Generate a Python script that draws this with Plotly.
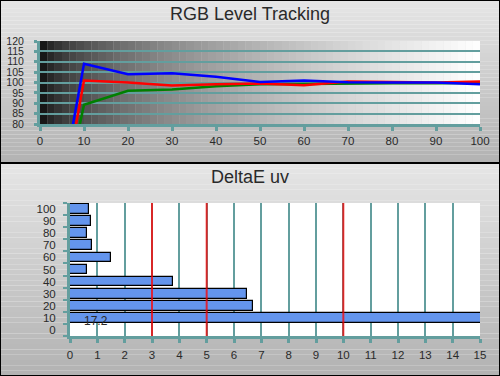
import plotly.graph_objects as go

# ---------------- data ----------------
levels = [0, 10, 20, 30, 40, 50, 60, 70, 80, 90, 100]
red_vals = [-16, 101, 100, 98.6, 99.2, 99.5, 98.7, 100.5, 100.2, 100, 100.5]
green_vals = [-11, 89.3, 96, 96.6, 98.2, 99.2, 99.3, 99.6, 99.6, 99.6, 99.8]
blue_vals = [-7, 109, 104, 104.5, 102.8, 100.3, 101.0, 100.1, 100, 100, 99.2]

de_levels = [10, 20, 30, 40, 50, 60, 70, 80, 90, 100]
de_values = [17.2, 6.68, 6.49, 3.75, 0.63, 1.51, 0.79, 0.63, 0.76, 0.71]
de_thresholds = [3, 5, 10]

top_title = "RGB Level Tracking"
bottom_title = "DeltaE uv"

# ---------------- style ----------------
W, H = 500, 376
TEAL = "#639e9e"
FONT = "Liberation Sans, Arial, sans-serif"
TXT = "#2a2a2a"


def py(px):
    return 1 - px / H


def px_(x):
    return x / W


fig = go.Figure()

fig.add_trace(go.Scatter(x=levels, y=green_vals, mode="lines",
                         line=dict(color="#008000", width=2.5),
                         xaxis="x", yaxis="y", showlegend=False))
fig.add_trace(go.Scatter(x=levels, y=red_vals, mode="lines",
                         line=dict(color="#ff0000", width=2.5),
                         xaxis="x", yaxis="y", showlegend=False))
fig.add_trace(go.Scatter(x=levels, y=blue_vals, mode="lines",
                         line=dict(color="#0000ff", width=2.5),
                         xaxis="x", yaxis="y", showlegend=False))

fig.add_trace(go.Bar(x=de_values, y=de_levels, orientation="h", width=8,
                     marker=dict(color="#6495ed", line=dict(color="black", width=1.2)),
                     xaxis="x2", yaxis="y2", showlegend=False))

shapes = []

# panel gradient backgrounds (paper)
def panel(y_top, y_bot, n=40, c_top=230, c_bot=178):
    for i in range(n):
        t0 = y_top + (y_bot - y_top) * i / n
        t1 = y_top + (y_bot - y_top) * (i + 1) / n
        c = int(round(c_top + (c_bot - c_top) * (i + 0.5) / n))
        shapes.append(dict(type="rect", xref="paper", yref="paper",
                           x0=0, x1=1, y0=py(t1), y1=py(t0),
                           fillcolor=f"rgb({c},{c},{c})", line=dict(width=0),
                           layer="below"))

panel(0, 163)
panel(163, 376)

# horizontal black->white gradient inside the top plot
N = 60
for i in range(N):
    x0 = 100 * i / N
    x1 = 100 * (i + 1) / N
    t = (i + 0.5) / N
    c = int(round(255 * t ** 0.5))
    shapes.append(dict(type="rect", xref="x", yref="y domain",
                       x0=x0, x1=x1 + 0.05, y0=0, y1=1,
                       fillcolor=f"rgb({c},{c},{c})", line=dict(width=0),
                       layer="below"))

# white plot area for bottom chart
shapes.append(dict(type="rect", xref="x2 domain", yref="y2 domain",
                   x0=0, x1=1, y0=0, y1=1, fillcolor="white",
                   line=dict(width=0), layer="below"))

# threshold lines
for t in de_thresholds:
    shapes.append(dict(type="line", xref="x2", yref="y2 domain",
                       x0=t, x1=t, y0=0, y1=1,
                       line=dict(color="#ff0000", width=2), opacity=0.75,
                       layer="above"))

# divider and border
shapes.append(dict(type="line", xref="paper", yref="paper", x0=0, x1=1,
                   y0=py(163), y1=py(163), line=dict(color="black", width=2)))
shapes.append(dict(type="rect", xref="paper", yref="paper", x0=0, x1=1,
                   y0=0, y1=1, line=dict(color="black", width=2)))

annotations = [
    dict(text=top_title, x=0.5, y=py(14), xref="paper", yref="paper",
         showarrow=False, font=dict(size=18, color=TXT, family=FONT),
         xanchor="center", yanchor="middle"),
    dict(text=bottom_title, x=0.5, y=py(177), xref="paper", yref="paper",
         showarrow=False, font=dict(size=18, color=TXT, family=FONT),
         xanchor="center", yanchor="middle"),
    dict(text=f"{de_values[0]}", x=0.45, y=de_levels[0], xref="x2", yref="y2",
         showarrow=False, font=dict(size=12, color=TXT, family=FONT),
         xanchor="left", yanchor="middle", yshift=-3),
]

axis_common = dict(showline=True, linecolor=TEAL, linewidth=3,
                   tickcolor=TEAL, tickwidth=3, zeroline=False, automargin=False,
                   tickfont=dict(size=11.5, color=TXT, family=FONT))

fig.update_layout(
    width=W, height=H, autosize=False,
    margin=dict(l=0, r=0, t=0, b=0, autoexpand=False),
    paper_bgcolor="rgba(0,0,0,0)",
    plot_bgcolor="rgba(0,0,0,0)",
    font=dict(family=FONT, color=TXT),
    shapes=shapes,
    annotations=annotations,
    bargap=0,
    xaxis=dict(domain=[px_(40), px_(480)], anchor="y", range=[0, 100],
               tickvals=list(range(0, 101, 10)), ticks="outside", ticklen=4,
               showgrid=False, ticklabelstandoff=0, **axis_common),
    yaxis=dict(domain=[py(124), py(41)], anchor="x", range=[80, 120],
               tickvals=list(range(80, 121, 5)), ticks="outside", ticklen=3,
               showgrid=True, gridcolor=TEAL, gridwidth=1.5,
               ticklabelstandoff=8,
               **{**axis_common, "tickfont": dict(size=10.5, color=TXT, family=FONT)}),
    xaxis2=dict(domain=[px_(70), px_(480)], anchor="y2", range=[0, 15],
                tickvals=list(range(0, 16)), ticks="outside", ticklen=4,
                showgrid=True, gridcolor=TEAL, gridwidth=1.5,
                ticklabelstandoff=2, **axis_common),
    yaxis2=dict(domain=[py(336), py(203)], anchor="x2", range=[-5, 105],
                tickvals=list(range(0, 101, 10)), ticks="",
                showgrid=False, ticklabelstandoff=9,
                minor=dict(tickvals=list(range(-5, 106, 10)), ticks="outside",
                           ticklen=4, tickwidth=2, tickcolor=TEAL, showgrid=False),
                **{**axis_common, "tickfont": dict(size=11.5, color=TXT, family=FONT)}),
)

fig.write_html(
    "out.html",
    config={"displayModeBar": False, "responsive": False},
    post_script="document.body.style.margin='0';document.body.style.padding='0';",
)
